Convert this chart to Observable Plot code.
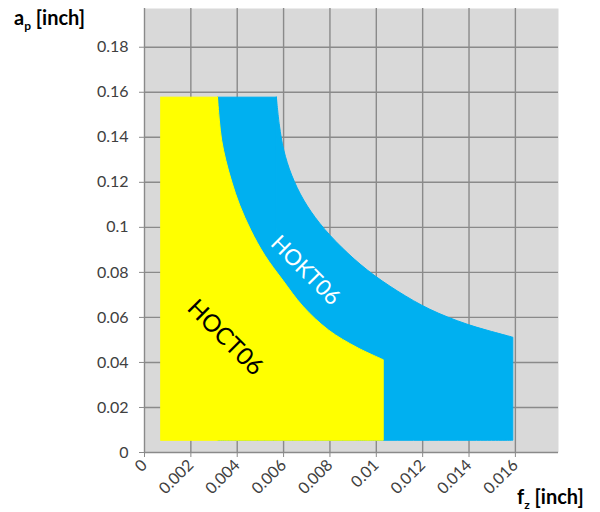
<!DOCTYPE html>
<html><head><meta charset="utf-8">
<script src="https://cdn.jsdelivr.net/npm/d3@7"></script>
<script src="https://cdn.jsdelivr.net/npm/@observablehq/plot@0.6"></script>
<style>body{margin:0;background:#fff;font-family:Lato,sans-serif}</style>
</head><body><div id="chart"></div>
<script>
// Axis ticks
const xTicks = [0, 0.002, 0.004, 0.006, 0.008, 0.01, 0.012, 0.014, 0.016];
const yTicks = [0, 0.02, 0.04, 0.06, 0.08, 0.1, 0.12, 0.14, 0.16, 0.18];
// Region limits
const apMin = 0.0052;
const apMax = 0.1576;
const hoctFzMin = 0.00072;
// HOCT06 (yellow) upper boundary curve
const hoctCurveFz = [0.00317, 0.00325, 0.00335, 0.00353, 0.00379, 0.00413, 0.00461, 0.00521, 0.00599, 0.00685, 0.00797, 0.00918, 0.01032];
const hoctCurveAp = [0.1576, 0.1474, 0.1385, 0.1296, 0.1199, 0.1096, 0.0985, 0.0874, 0.0763, 0.0648, 0.0541, 0.0465, 0.0410];
// HOKT06 (blue) upper boundary curve
const hoktCurveFz = [0.00571, 0.00584, 0.00603, 0.00637, 0.00689, 0.00758, 0.00853, 0.00965, 0.01095, 0.01233, 0.01393, 0.01591];
const hoktCurveAp = [0.1576, 0.1452, 0.1341, 0.1230, 0.1119, 0.1016, 0.0909, 0.0807, 0.0714, 0.0634, 0.0568, 0.0510];
// Region labels
const labelNames = ["HOCT06", "HOKT06"];
const labelFz = [0.00348, 0.00694];
const labelAp = [0.051, 0.0808];

const YELLOW = "#ffff00", BLUE = "#00b0f0", GRID = "#8a8a8a";

const hoctCurve = hoctCurveFz.map((x, i) => ({x, y2: hoctCurveAp[i], y1: apMin}));
const hoktCurve = hoktCurveFz.map((x, i) => ({x, y2: hoktCurveAp[i], y1: apMin}));
const blocks = [
  {x1: hoctCurveFz[0], x2: hoktCurveFz[0], y1: apMin, y2: apMax},
  {x1: hoctFzMin, x2: hoctCurveFz[0], y1: apMin, y2: apMax}
];
const labels = labelNames.map((name, i) => ({name, x: labelFz[i], y: labelAp[i]}));
const fmt = d => String(+d.toFixed(4));

const chart = Plot.plot({
  width: 600, height: 512,
  marginLeft: 144, marginRight: 42, marginTop: 8, marginBottom: 60,
  style: {fontFamily: "Lato, sans-serif", background: "#fff"},
  x: {domain: [0, 0.01786]},
  y: {domain: [0, 0.1972]},
  marks: [
    Plot.frame({fill: "#d9d9d9", stroke: "none"}),
    Plot.gridX(xTicks, {stroke: GRID, strokeOpacity: 1, strokeWidth: 1.4}),
    Plot.gridY(yTicks, {stroke: GRID, strokeOpacity: 1, strokeWidth: 1.4}),
    Plot.rect(blocks.slice(0, 1), {x1: "x1", x2: "x2", y1: "y1", y2: "y2", fill: BLUE, stroke: BLUE, strokeWidth: 1}),
    Plot.areaY(hoktCurve, {x: "x", y1: "y1", y2: "y2", curve: "catmull-rom", fill: BLUE, stroke: BLUE, strokeWidth: 1}),
    Plot.rect(blocks.slice(1), {x1: "x1", x2: "x2", y1: "y1", y2: "y2", fill: YELLOW, stroke: YELLOW, strokeWidth: 1}),
    Plot.areaY(hoctCurve, {x: "x", y1: "y1", y2: "y2", curve: "catmull-rom", fill: YELLOW, stroke: YELLOW, strokeWidth: 1}),
    Plot.text(labels.slice(0, 1), {x: "x", y: "y", text: "name", rotate: 45, fontSize: 24, fill: "#000"}),
    Plot.text(labels.slice(1), {x: "x", y: "y", text: "name", rotate: 45, fontSize: 22, fill: "#fff"}),
    Plot.axisY(yTicks, {tickSize: 5, tickPadding: 11, fontSize: 16, tickFormat: fmt, stroke: GRID, fill: "#404040", label: null}),
    Plot.axisX(xTicks, {tickSize: 5, tickPadding: 5, fontSize: 16, tickFormat: fmt, tickRotate: -45, stroke: GRID, fill: "#404040", label: null})
  ]
});
document.getElementById("chart").appendChild(chart);

const svg = d3.select(chart);
const t1 = svg.append("text").attr("x", 14).attr("y", 25).attr("text-anchor", "start")
  .attr("font-family", "Lato, sans-serif").attr("font-size", 20).attr("font-weight", "bold").attr("fill", "#000");
t1.append("tspan").text("a");
t1.append("tspan").attr("font-size", 12).attr("dy", 5).text("p");
t1.append("tspan").attr("dy", -5).text(" [inch]");
const t2 = svg.append("text").attr("x", 517).attr("y", 504).attr("text-anchor", "start")
  .attr("font-family", "Lato, sans-serif").attr("font-size", 20).attr("font-weight", "bold").attr("fill", "#000");
t2.append("tspan").text("f");
t2.append("tspan").attr("font-size", 12).attr("dy", 5).text("z");
t2.append("tspan").attr("dy", -5).text(" [inch]");
</script>
</body></html>
